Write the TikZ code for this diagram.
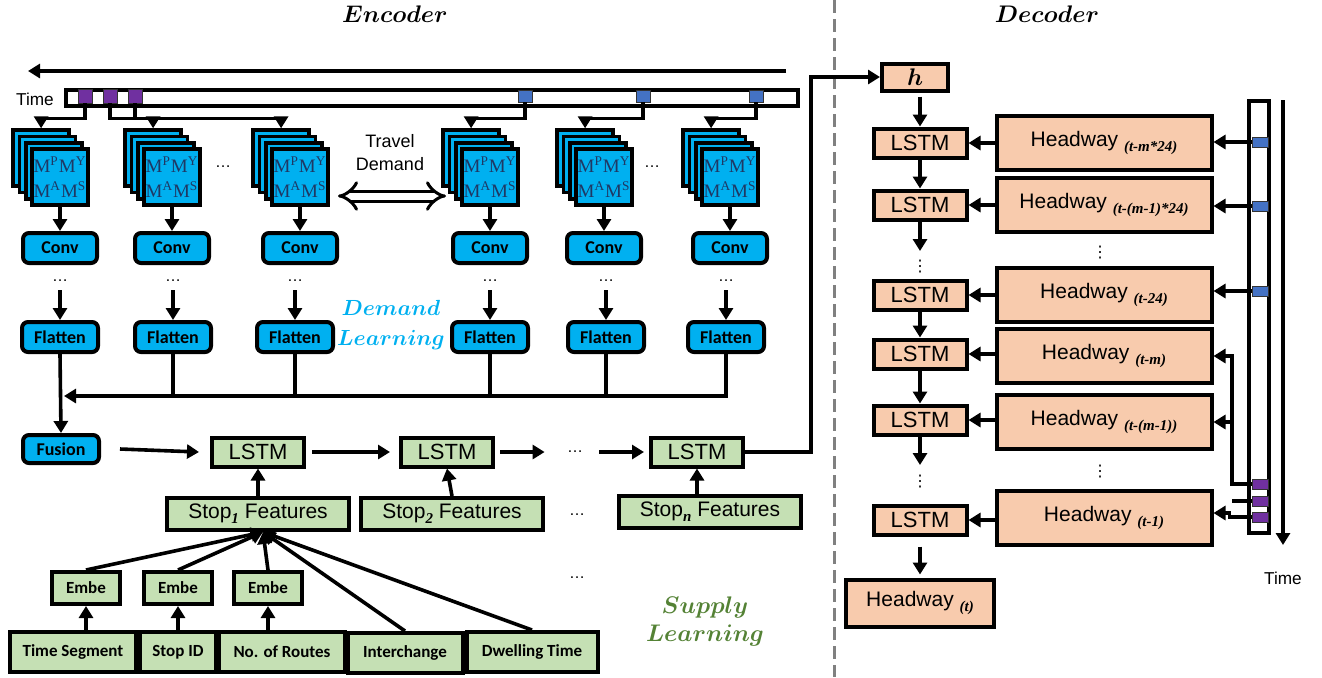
\documentclass[tikz,border=0pt]{standalone}
\usepackage{amsmath,amssymb}
\usepackage{fontspec}
\setmainfont{Liberation Sans}
\newfontfamily\narrowfont{Carlito}
\newfontfamily\subfont{Liberation Serif}
\newfontfamily\symfont{DejaVu Sans}
\usetikzlibrary{arrows.meta,positioning,calc}
\definecolor{demand}{HTML}{00B0F0}
\definecolor{supply}{HTML}{548235}
\definecolor{suppfill}{HTML}{C5E0B4}
\definecolor{headfill}{HTML}{F8CBAD}
\definecolor{slotold}{HTML}{7030A0}
\definecolor{slotday}{HTML}{4472C4}
\definecolor{mtext}{HTML}{1F3864}

\newcommand{\tsub}[1]{\raisebox{-2.5pt}{\subfont\bfseries\itshape\fontsize{7.5}{8}\selectfont #1}}
\newcommand{\mlab}[2]{M\textsuperscript{#1}M\textsuperscript{#2}}

\tikzset{
  arr/.style={line width=1.8pt, -{Triangle[length=6pt,width=7pt]}},
  wire/.style={line width=1.8pt},
  cnn/.style={draw, line width=2pt, rounded corners=3pt, fill=demand,
    inner sep=0pt, minimum height=15pt,
    font=\narrowfont\bfseries\fontsize{9}{10}\selectfont},
  grid/.style={draw, line width=1.8pt, fill=demand, minimum size=28pt, inner sep=0pt},
  lstm/.style={draw, line width=2pt, fill=suppfill, minimum width=46pt,
    minimum height=14.5pt, inner sep=0pt, font=\fontsize{11}{12}\selectfont},
  feat/.style={draw, line width=2pt, fill=suppfill, minimum width=91pt,
    minimum height=16pt, inner sep=0pt, font=\fontsize{10.5}{12}\selectfont},
  embe/.style={draw, line width=2pt, fill=suppfill, minimum width=34pt,
    minimum height=16pt, inner sep=0pt,
    font=\narrowfont\bfseries\fontsize{8.5}{10}\selectfont},
  raw/.style={draw, line width=2pt, fill=suppfill, minimum height=20pt,
    inner sep=0pt, font=\narrowfont\bfseries\fontsize{8.5}{10}\selectfont},
  dlstm/.style={draw, line width=2pt, fill=headfill, minimum width=46.5pt,
    minimum height=14.5pt, inner sep=0pt, font=\fontsize{11}{12}\selectfont},
  hway/.style={draw, line width=2pt, fill=headfill, minimum width=107.5pt,
    minimum height=27pt, inner sep=0pt, font=\fontsize{10.5}{12}\selectfont},
  slot/.style={draw=black!80, line width=0.4pt, inner sep=0pt},
  dots/.style={font=\fontsize{8}{9}\selectfont, inner sep=0pt},
  vdots/.style={font=\symfont\fontsize{8}{9}\selectfont, inner sep=0pt},
}

\begin{document}
\begin{tikzpicture}[x=0.5pt,y=-0.5pt]
\useasboundingbox (0,0) rectangle (1322,677);

% headers and divider
\node (enc) at (395,14) {\fontsize{12.5}{14}\selectfont$\boldsymbol{Encoder}$};
\node (dec) at (1047,14) {\fontsize{12.5}{14}\selectfont$\boldsymbol{Decoder}$};
\draw[line width=1.5pt, draw=black!50, dash pattern=on 6.5pt off 3pt] (834,0) -- (834,677);

% time line of the encoder
\coordinate (tr) at (786,71);
\coordinate (tl) at (28,71);
\draw[arr] (tr) -- (tl);
\node[draw, line width=1.8pt, minimum width=366pt, minimum height=8pt, inner sep=0pt] (tbar) at (432,98) {};
\node[font=\fontsize{8.6}{10}\selectfont] (tlab) at (35,99) {Time};
\foreach \n/\x in {1/85,2/110,3/135}
  \node[slot, fill=slotold, minimum size=7pt] (p\n) at (\x,96) {};
\foreach \n/\x in {1/525,2/643,3/756}
  \node[slot, fill=slotday, minimum width=7pt, minimum height=6pt] (b\n) at (\x,96) {};

% demand stacks, conv and flatten
\foreach \n/\x in {1/60,2/172,3/300,4/490,5/604,6/730}{
  \foreach \k in {3,2,1}
    \node[grid] (s\n-\k) at ({\x-\k*6.3},{177-\k*6.3}) {};
  \node[grid, text=mtext, align=center, font=\subfont\fontsize{9.5}{11.5}\selectfont]
    (s\n) at (\x,177) {\mlab{P}{Y}\\[1pt]\mlab{A}{S}};
  \node[cnn, minimum width=37pt] (c\n) at (\x,248) {Conv};
  \draw[arr] (c\n.north |- s\n.south) -- (c\n.north);
}
\foreach \n/\x in {1/60,2/173,3/295,4/490,5/606,6/726}{
  \node[cnn, minimum width=38pt] (f\n) at (\x,337) {Flatten};
  \node[dots] (d\n) at (\x,281) {\ldots};
  \draw[arr] ($(d\n.south)+(0,8)$) -- (f\n.north);
}
\node[dots] (gap1) at (223,167) {\ldots};
\node[dots] (gap2) at (652,167) {\ldots};

\draw[arr] (p1.south) -- ++(0,15) -| (s1-3.north);
\draw[arr] (p2.south) -- ++(0,15) -| (s2-3.north);
\draw[arr] (p3.south) -- ++(0,15) -| (s3-3.north);
\draw[arr] (b1.south) -- ++(0,16) -| (s4-3.north);
\draw[arr] (b2.south) -- ++(0,16) -| (s5-3.north);
\draw[arr] (b3.south) -- ++(0,16) -| (s6-3.north);

\node[font=\fontsize{9}{11.5}\selectfont, align=center] (td) at (390,153) {Travel\\Demand};
\coordinate (tdl) at (338,196);
\coordinate (tdr) at (446,196);
\draw[double, double distance=3.5pt, line width=1.5pt, {Implies}-{Implies}] (tdl) -- (tdr);

\node[text=demand, align=center, font=\fontsize{10.5}{15}\selectfont] (demlab) at (391,325)
  {$\boldsymbol{Demand}$\\$\boldsymbol{Learning}$};

% fusion
\node[cnn, minimum width=38pt, minimum height=14pt] (fu) at (61,449) {Fusion};
\draw[arr] (f1.south) -- (fu.north);
\coordinate (bus) at (64,396);
\draw[arr] (f6.south) |- (bus);
\foreach \n in {2,...,5}
  \draw[wire] (f\n.south) -- (f\n.south |- bus);

% supply side
\node[lstm] (l1) at (258,452) {LSTM};
\node[lstm] (l2) at (447,452) {LSTM};
\node[dots] (ld) at (575,452) {\ldots};
\node[lstm] (l3) at (697,452) {LSTM};
\draw[arr] ($(fu.east)+(19,0)$) -- ($(l1.west)+(-11,0)$);
\draw[arr] ($(l1.east)+(6,0)$) -- ($(l2.west)+(-9,0)$);
\draw[arr] ($(l2.east)+(5,0)$) -- ($(ld.west)+(-22,0)$);
\draw[arr] ($(ld.east)+(16,0)$) -- ($(l3.west)+(-5,0)$);

\node[feat] (st1) at (258,514) {Stop\tsub{1} Features};
\node[feat] (st2) at (452,514) {Stop\tsub{2} Features};
\node[feat] (stn) at (710,512) {Stop\tsub{n} Features};
\node[dots] (sd1) at (577,515) {\ldots};
\node[dots] (sd2) at (577,578) {\ldots};
\draw[arr] (st1.north) -- (l1.south);
\draw[arr] (st2.north) -- (l2.south);
\draw[arr] (l3.south |- stn.north) -- (l3.south);

\node[embe] (e1) at (86,588) {Embe};
\node[embe] (e2) at (178,588) {Embe};
\node[embe] (e3) at (268,588) {Embe};
\node[raw, minimum width=63pt] (in1) at (73,652) {Time Segment};
\node[raw, minimum width=38pt] (in2) at (178,652) {Stop ID};
\node[raw, minimum width=63pt] (in3) at (282,652) {No. of Routes};
\node[raw, minimum width=57.5pt] (in4) at (405,653) {Interchange};
\node[raw, minimum width=65.5pt] (in5) at (532,652) {Dwelling Time};
\draw[arr] (e1.south |- in1.north) -- (e1.south);
\draw[arr] (e2.south |- in2.north) -- (e2.south);
\draw[arr] (e3.south |- in3.north) -- (e3.south);
\coordinate (sf) at ($(st1.south)+(5,0)$);
\foreach \s in {e1,e2,e3,in4,in5}
  \draw[arr] (\s.north) -- (sf);

\node[text=supply, align=center, font=\fontsize{12}{14}\selectfont] (suplab) at (705,621)
  {$\boldsymbol{Supply}$\\$\boldsymbol{Learning}$};

% decoder
\node[dlstm, minimum width=33pt, minimum height=13.5pt, font=\fontsize{12}{13}\selectfont] (h) at (915,77) {$\boldsymbol{h}$};
\coordinate (turn) at (811,0);
\draw[arr] (l3.east) -- (l3.east -| turn) |- (h.west);

\foreach \n/\y in {1/143,2/205,3/295,4/354,5/420,6/520}
  \node[dlstm] (dl\n) at (920,\y) {LSTM};
\node[hway, minimum width=74pt, minimum height=23.5pt] (hwt) at (920,603) {Headway \tsub{(t)}};

\draw[arr] ($(dl1.north |- h.south)+(0,4)$) -- (dl1.north);
\draw[arr] (dl1.south) -- (dl2.north);
\coordinate (v1) at (920,251);
\draw[arr] (dl2.south) -- (v1);
\node[vdots] (vd1) at (920,267) {⋮};
\draw[arr] (dl3.south) -- (dl4.north);
\draw[arr] (dl4.south) -- (dl5.north);
\coordinate (v2) at (920,465);
\draw[arr] (dl5.south) -- (v2);
\node[vdots] (vd2) at (920,482) {⋮};
\draw[arr] ($(dl6.south)+(0,10)$) -- ($(hwt.north)+(0,-3)$);

\node[hway] (hw1) at (1104,143) {Headway \tsub{(t-m*24)}};
\node[hway] (hw2) at (1104,205) {Headway \tsub{(t-(m-1)*24)}};
\node[hway] (hw3) at (1104,295) {Headway \tsub{(t-24)}};
\node[hway] (hw4) at (1104,356) {Headway \tsub{(t-m)}};
\node[hway] (hw5) at (1104,422) {Headway \tsub{(t-(m-1))}};
\node[hway] (hw6) at (1104,518) {Headway \tsub{(t-1)}};
\node[vdots] (vd3) at (1100,253) {⋮};
\node[vdots] (vd4) at (1100,472) {⋮};
\foreach \n in {1,...,6}
  \draw[arr] (hw\n.west |- dl\n) -- (dl\n.east);

% time line of the decoder
\node[draw, line width=1.8pt, minimum width=10pt, minimum height=216pt, inner sep=0pt] (vbar) at (1259,317) {};
\foreach \n/\y in {1/142,2/206,3/291}
  \node[slot, fill=slotday, minimum width=8pt, minimum height=5pt] (q\n) at (1260,\y) {};
\foreach \n/\y in {1/484,2/501,3/517}
  \node[slot, fill=slotold, minimum width=8pt, minimum height=5pt] (u\n) at (1260,\y) {};
\draw[arr] (q1.west) -- (hw1.east |- q1);
\draw[arr] (q2.west) -- (hw2.east |- q2);
\draw[arr] (q3.west) -- (hw3.east |- q3);
\coordinate (pj) at (1232,0);
\draw[arr] (u1.west) -| (pj |- hw4) -- (hw4.east);
\draw[wire] (u2.west) -- (u2.west -| pj);
\draw[arr] (pj |- hw5) -- (hw5.east);
\draw[arr] (u3.west) -- ++(-22,0) |- ($(hw6.east)+(0,-5)$);

\coordinate (tt) at (1283,100);
\coordinate (tb) at (1283,545);
\draw[arr] (tt) -- (tb);
\node[font=\fontsize{8.6}{10}\selectfont] (tlab2) at (1283,578) {Time};
\end{tikzpicture}
\end{document}
